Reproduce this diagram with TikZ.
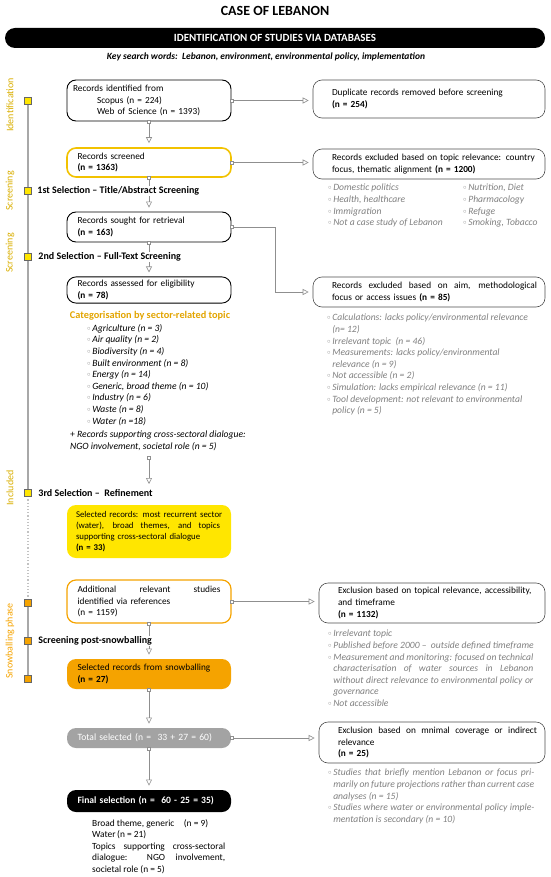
\documentclass[tikz,border=0pt]{standalone}
\usepackage{fontspec}
\setmainfont{Carlito}
\usetikzlibrary{positioning, arrows.meta, backgrounds}
\definecolor{Gold}{HTML}{D9AE00}
\definecolor{CatGold}{HTML}{E2A400}
\definecolor{Sun}{HTML}{FFE600}
\definecolor{SunLine}{HTML}{F2C200}
\definecolor{Amber}{HTML}{F5A300}
\definecolor{Wire}{HTML}{8F8F8F}
\definecolor{Rail}{HTML}{A8A8A8}
\definecolor{Note}{HTML}{7F7F7F}
\definecolor{Stone}{HTML}{A3A3A3}
\newcommand{\bodysize}{\fontsize{9.3}{11.6}\selectfont}
\newcommand{\notesize}{\fontsize{9.6}{11.6}\selectfont}
\newcommand{\bul}{\textcolor{Note}{\raisebox{0.2ex}{\scalebox{0.7}{$\circ$}}}\,}
\newcommand{\hang}{\phantom{\bul}}
\newcommand{\jl}[2]{{\spaceskip=0pt\xspaceskip=0pt\makebox[#1][s]{#2}}}
\newcommand{\rl}[1]{\mbox{\hspace{6pt}#1}}
\newcommand{\rj}[2]{\mbox{\hspace{6pt}\jl{#1}{#2}}}
\tikzset{
    titletext/.style={font=\fontsize{14}{16}\selectfont\bfseries},
    banner/.style={rectangle, rounded corners=10pt, fill=black, text=white, minimum width=540pt, minimum height=20pt, font=\fontsize{11}{13}\selectfont\bfseries},
    keys/.style={font=\fontsize{9.5}{11}\selectfont\bfseries\itshape},
    mainbox/.style={rectangle, rounded corners=9pt, draw=black, line width=0.9pt, minimum width=164pt, text width=143pt, inner xsep=10.5pt, align=left, font=\bodysize},
    sidebox/.style={rectangle, rounded corners=9pt, draw=black!70, line width=0.6pt, minimum width=232pt, text width=206pt, inner xsep=13pt, align=left, font=\bodysize},
    notelist/.style={anchor=north west, inner sep=0pt, align=left, font=\notesize\itshape, text=Note},
    cattitle/.style={font=\fontsize{10.3}{12}\selectfont\bfseries, text=CatGold},
    stagelabel/.style={font=\fontsize{10}{12}\selectfont\bfseries, fill=white, inner sep=1pt},
    phase/.style={rotate=90, font=\fontsize{10}{12}\selectfont, text=Gold},
    marker/.style={rectangle, draw=black!60, fill=Sun, minimum size=7pt, inner sep=0pt, line width=0.5pt},
    rail/.style={draw=Rail, line width=1.2pt},
    flow/.style={draw=Wire, line width=0.6pt, {Square[length=3.5pt,width=3.5pt,fill=white]}-{Triangle[open,length=6pt,width=6pt]}, shorten <=-1.75pt, shorten >=4pt},
}
\begin{document}
\begin{tikzpicture}[x=1pt, y=-1pt]
\useasboundingbox (0,0) rectangle (550,877);

% header
\node[titletext] (title) at (275,11) {CASE OF LEBANON};
\node[banner] (banner) at (275,38) {IDENTIFICATION OF STUDIES VIA DATABASES};
\node[keys] (keys) at (266,57) {Key search words:\ \ Lebanon, environment, environmental policy, implementation};

% timeline
\node[marker] (m1) at (28,101) {};
\node[marker] (m2) at (28,191) {};
\node[marker] (m3) at (28,257) {};
\node[marker] (m4) at (28,493) {};
\node[marker, fill=Amber] (m5) at (28,603) {};
\node[marker, fill=Amber] (m6) at (28,641) {};
\node[marker, fill=Amber] (m7) at (28,679) {};
\begin{scope}[on background layer]
    \draw[rail] (m1.center) -- (m4.center);
    \draw[rail, draw=Rail!70, dotted] (m4.center) -- (m5.center);
    \draw[rail] (m5.center) -- (m7.center);
\end{scope}

\node[phase] (p1) at (10,105) {Identification};
\node[phase] (p2) at (10,191) {Screening};
\node[phase] (p3) at (10,253) {Screening};
\node[phase] (p4) at (10,488) {Included};
\node[phase, text=Amber] (p5) at (10,641) {Snowballing phase};

% main column
\node[mainbox, inner xsep=6pt, text width=152pt, minimum height=41pt] (ident) at (149,100.5)
    {Records identified from\\ \hspace*{24pt}Scopus (n = 224)\\ \hspace*{24pt}Web of Science (n = 1393)};
\node[mainbox, draw=SunLine, line width=1.6pt, minimum height=29pt] (screened) at (149,162.5)
    {Records screened\\ \textbf{(n = 1363)}};
\node[mainbox, minimum height=30pt] (sought) at (149,227)
    {Records sought for retrieval\\ \textbf{(n = 163)}};
\node[mainbox, minimum height=26pt] (assessed) at (149,290)
    {Records assessed for eligibility\\ \textbf{(n = 78)}};
\node[cattitle] (cat) at (150,316) {Categorisation by sector-related topic};
\node[notelist, text=black] (catlist) at (70,324)
    {\hspace*{17pt}\bul Agriculture (n = 3)\\
     \hspace*{17pt}\bul Air quality (n = 2)\\
     \hspace*{17pt}\bul Biodiversity (n = 4)\\
     \hspace*{17pt}\bul Built environment (n = 8)\\
     \hspace*{17pt}\bul Energy (n = 14)\\
     \hspace*{17pt}\bul Generic, broad theme (n = 10)\\
     \hspace*{17pt}\bul Industry (n = 6)\\
     \hspace*{17pt}\bul Waste (n = 8)\\
     \hspace*{17pt}\bul Water (n =18)\\[2pt]
     + Records supporting cross-sectoral dialogue:\\
     NGO involvement, societal role (n = 5)};
\coordinate (refine) at (149,488);
\node[mainbox, draw=none, fill=Sun, minimum height=53pt, text width=146pt, inner xsep=9pt, font=\fontsize{8.8}{11.2}\selectfont] (sel) at (149,531.5)
    {\mbox{Selected records: most recurrent sector}\\
     \jl{144pt}{(water), broad themes, and topics}\\
     supporting cross-sectoral dialogue\\
     \textbf{(n = 33)}};
\node[mainbox, draw=Amber, line width=1.2pt, minimum height=43pt] (extra) at (149,601.5)
    {\jl{143pt}{Additional relevant studies}\\ identified via references\\ (n = 1159)};
\node[mainbox, draw=none, fill=Amber, minimum height=30pt] (snow) at (149,674)
    {Selected records from snowballing\\ \textbf{(n = 27)}};
\node[mainbox, draw=none, fill=Stone, text=white, minimum height=20pt, font=\fontsize{9.6}{11.6}\selectfont] (total) at (149,738)
    {Total selected (n =\ \ 33 + 27 = 60)};
\node[mainbox, draw=none, fill=black, text=white, minimum height=22pt, font=\fontsize{9.6}{11.6}\selectfont\bfseries] (final) at (149,801)
    {Final selection (n =\ \ 60 - 25 = 35)};
\node[notelist, text=black, font=\fontsize{9.4}{11.6}\selectfont] (finallist) at (92,819)
    {Broad theme, generic\quad (n = 9)\\
     Water\,(n = 21)\\
     \jl{133pt}{Topics supporting cross-sectoral}\\
     \jl{133pt}{dialogue: NGO involvement,}\\
     societal role (n = 5)};

% exclusions
\node[sidebox, minimum height=38pt] (dup) at (429,99)
    {\rl{Duplicate records removed before screening}\\ \rl{\textbf{(n = 254)}}};
\node[sidebox, minimum height=30pt] (topic) at (429,164)
    {\rl{Records excluded based on topic relevance: country}\\ \rl{focus, thematic alignment \textbf{(n = 1200)}}};
\node[notelist] (topicnotes) at (328,184)
    {\bul Domestic politics\\ \bul Health, healthcare\\ \bul Immigration\\ \bul Not a case study of Lebanon};
\node[notelist] (topicnotes2) at (463,184)
    {\bul Nutrition, Diet\\ \bul Pharmacology\\ \bul Refuge\\ \bul Smoking, Tobacco};
\node[sidebox, minimum height=30pt] (aim) at (429,292)
    {\rj{205pt}{Records excluded based on aim, methodological}\\ \rl{focus or access issues \textbf{(n = 85)}}};
\node[notelist] (aimnotes) at (327,314)
    {\bul Calculations: lacks policy/environmental relevance\\
     \hang(n= 12)\\
     \bul Irrelevant topic\ \ (n = 46)\\
     \bul Measurements: lacks policy/environmental\\
     \hang relevance (n = 9)\\
     \bul Not accessible (n = 2)\\
     \bul Simulation: lacks empirical relevance (n = 11)\\
     \bul Tool development: not relevant to environmental\\
     \hang policy (n = 5)};
\node[sidebox, minimum width=226pt, text width=200pt, minimum height=40pt] (topical) at (432,603)
    {\rl{Exclusion based on topical relevance, accessibility,}\\ \rl{and timeframe}\\ \rl{\textbf{(n = 1132)}}};
\node[notelist] (topicalnotes) at (328,630)
    {\bul Irrelevant topic\\
     \bul Published before 2000 --\ \ outside defined timeframe\\
     \bul \jl{200pt}{Measurement and monitoring: focused on technical}\\
     \hang\jl{200pt}{characterisation of water sources in Lebanon}\\
     \hang\jl{200pt}{without direct relevance to environmental policy or}\\
     \hang governance\\
     \bul Not accessible};
\node[sidebox, minimum width=226pt, text width=200pt, minimum height=41pt] (minimal) at (432,742.5)
    {\rj{199pt}{Exclusion based on mnimal coverage or indirect}\\ \rl{relevance}\\ \rl{\textbf{(n = 25)}}};
\node[notelist] (minimalnotes) at (328,769)
    {\bul \jl{201pt}{Studies that briefly mention Lebanon or focus pri-}\\
     \hang\jl{201pt}{marily on future projections rather than current case}\\
     \hang analyses (n = 15)\\
     \bul \jl{201pt}{Studies where water or environmental policy imple-}\\
     \hang mentation is secondary (n = 10)};

% connectors
\draw[flow] (ident.south) -- (screened.north);
\draw[flow] (screened.south) -- (sought.north);
\draw[flow] (sought.south) -- (assessed.north);
\draw[flow] ([yshift=-7pt]catlist.south -| assessed.south) -- (refine);
\draw[flow] (extra.south) -- (snow.north);
\draw[flow] (snow.south) -- (total.north);
\draw[flow] (total.south) -- (final.north);
\draw[flow] (ident.east) -- (ident.east -| dup.west);
\draw[flow] (screened.east) -- (screened.east -| topic.west);
\draw[flow] (sought.east) -- ++(44,0) |- (aim.west);
\draw[flow] (extra.east) -- (extra.east -| topical.west);
\draw[flow] (total.east) -- (total.east -| minimal.west);

% stages
\node[stagelabel, right=4.5pt of m2] (stage1) {1st Selection -- Title/Abstract Screening};
\node[stagelabel, right=5.5pt of m3] (stage2) {2nd Selection -- Full-Text Screening};
\node[stagelabel, right=5.5pt of m4] (stage3) {3rd Selection --\ \ Refinement};
\node[stagelabel, right=5.5pt of m6] (stage4) {Screening post-snowballing};
\end{tikzpicture}
\end{document}
